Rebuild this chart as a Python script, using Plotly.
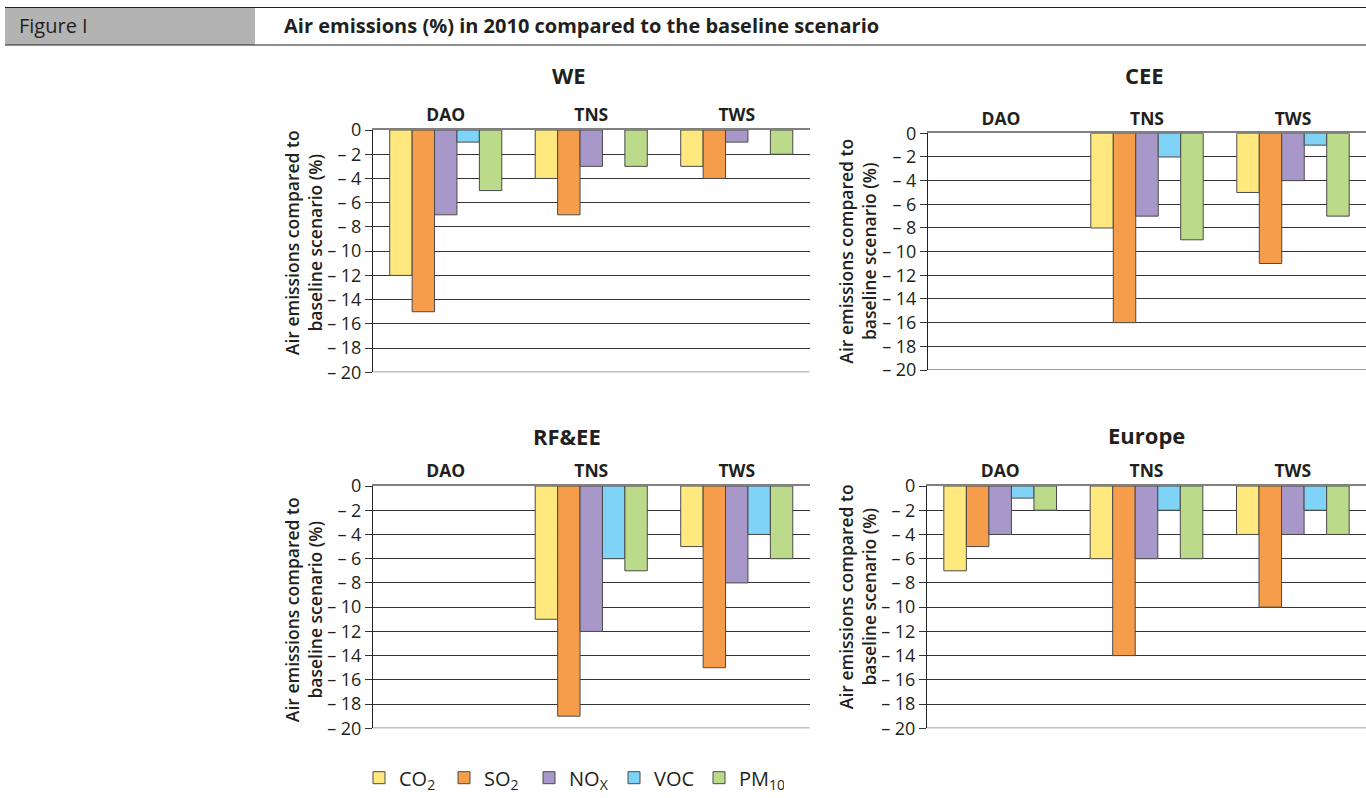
import plotly.graph_objects as go

W, H = 1366, 798

scenarios = ["DAO", "TNS", "TWS"]
pollutants = ["CO<sub>2</sub>", "SO<sub>2</sub>", "NO<sub>X</sub>", "VOC", "PM<sub>10</sub>"]
colors = ["#FFE97F", "#F59D4B", "#A898C9", "#7FD3F7", "#BBDA8A"]

# values per region (DAO, TNS, TWS); None = no bar shown
we_co2 = [-12, -4, -3]
we_so2 = [-15, -7, -4]
we_nox = [-7, -3, -1]
we_voc = [-1, None, None]
we_pm10 = [-5, -3, -2]

cee_co2 = [None, -8, -5]
cee_so2 = [None, -16, -11]
cee_nox = [None, -7, -4]
cee_voc = [None, -2, -1]
cee_pm10 = [None, -9, -7]

rfee_co2 = [None, -11, -5]
rfee_so2 = [None, -19, -15]
rfee_nox = [None, -12, -8]
rfee_voc = [None, -6, -4]
rfee_pm10 = [None, -7, -6]

eu_co2 = [-7, -6, -4]
eu_so2 = [-5, -14, -10]
eu_nox = [-4, -6, -4]
eu_voc = [-1, -2, -2]
eu_pm10 = [-2, -6, -4]

regions = ["WE", "CEE", "RF&EE", "Europe"]
region_data = [
    [we_co2, we_so2, we_nox, we_voc, we_pm10],
    [cee_co2, cee_so2, cee_nox, cee_voc, cee_pm10],
    [rfee_co2, rfee_so2, rfee_nox, rfee_voc, rfee_pm10],
    [eu_co2, eu_so2, eu_nox, eu_voc, eu_pm10],
]

tickvals = list(range(0, -21, -2))
ticktext = ["0"] + ["\u2013 %d" % (-v) for v in tickvals[1:]]

FONT = "Open Sans"
TXT = "#231f20"

def px_x(p):
    return p / W

def px_y(p):
    return 1 - p / H

# panel geometry in pixels: (axis left x, right x, top y, bottom y)
panels = [
    (373, 809.5, 130, 372.3),
    (928, 1366, 133.3, 370),
    (373, 809.5, 486, 728.3),
    (927, 1366, 486, 728.3),
]
title_pos = [(569, 75), (1144, 75), (567, 436), (1146, 435)]
ytitle_shift = [-8, 0, 3, -10]

fig = go.Figure()

for i, (reg, data) in enumerate(zip(regions, region_data)):
    sfx = "" if i == 0 else str(i + 1)
    for j, (name, vals) in enumerate(zip(pollutants, data)):
        fig.add_trace(go.Bar(
            x=scenarios, y=vals, name=name,
            marker=dict(color=colors[j], line=dict(color="#4a4a4a", width=1)),
            xaxis="x" + sfx, yaxis="y" + sfx,
            showlegend=(i == 0), legendgroup=name,
        ))
    x0, x1, y0, y1 = panels[i]
    fig.update_layout(**{
        "xaxis" + sfx: dict(
            domain=[px_x(x0), px_x(x1)], anchor="y" + sfx, side="top",
            type="category", categoryorder="array", categoryarray=scenarios,
            range=[-0.5, 2.5], showline=True, linecolor="#808080", linewidth=1.5,
            showgrid=False, ticks="",
            tickfont=dict(family=FONT, size=17.5, color=TXT, weight="bold"),
            ticklabelstandoff=0,
        ),
        "yaxis" + sfx: dict(
            domain=[px_y(y1), px_y(y0)], anchor="x" + sfx,
            range=[-20, 0], tickvals=tickvals, ticktext=ticktext,
            showline=True, linecolor="#222", linewidth=1,
            showgrid=True, gridcolor="#333", gridwidth=1, zeroline=False,
            ticks="outside", ticklen=7, tickcolor="#333",
            tickfont=dict(family=FONT, size=18, color=TXT),
        ),
    })
    fig.add_shape(type="line", xref="x" + sfx + " domain", yref="y" + sfx,
                  x0=0, x1=1, y0=-20, y1=-20, line=dict(color="#808080", width=1.5))
    tx, ty = title_pos[i]
    fig.add_annotation(text=reg, x=px_x(tx), y=px_y(ty), xref="paper", yref="paper",
                       showarrow=False, font=dict(family=FONT, size=22, color=TXT, weight="bold"),
                       xanchor="center", yanchor="middle")
    fig.add_annotation(text="Air emissions compared to<br>baseline scenario (%)",
                       x=px_x(x0 - 70), y=px_y((y0 + y1) / 2 + ytitle_shift[i]),
                       xref="paper", yref="paper",
                       showarrow=False, textangle=-90,
                       font=dict(family=FONT, size=17.5, color=TXT, weight=600),
                       xanchor="center", yanchor="middle")

# header band
fig.add_shape(type="rect", xref="paper", yref="paper", x0=px_x(5), x1=px_x(255),
              y0=px_y(45), y1=px_y(7.5), fillcolor="#B3B3B3", line=dict(width=0), layer="below")
fig.add_shape(type="line", xref="paper", yref="paper", x0=px_x(5), x1=1, y0=px_y(7.5), y1=px_y(7.5),
              line=dict(color="#222", width=1.2))
fig.add_shape(type="line", xref="paper", yref="paper", x0=px_x(5), x1=1, y0=px_y(45), y1=px_y(45),
              line=dict(color="#222", width=1.2))
fig.add_annotation(text="Figure I", x=px_x(17), y=px_y(25.5), xref="paper", yref="paper",
                   showarrow=False, xanchor="left", yanchor="middle",
                   font=dict(family=FONT, size=20, color=TXT))
fig.add_annotation(text="Air emissions (%) in 2010 compared to the baseline scenario",
                   x=px_x(282), y=px_y(25.5), xref="paper", yref="paper",
                   showarrow=False, xanchor="left", yanchor="middle",
                   font=dict(family=FONT, size=20, color=TXT, weight="bold"))

fig.update_layout(
    width=W, height=H, margin=dict(l=0, r=0, t=0, b=0, autoexpand=False),
    paper_bgcolor="white", plot_bgcolor="white",
    barmode="group", bargap=0.23, bargroupgap=0,
    showlegend=True,
    legend=dict(orientation="h", xref="container", yref="container",
                x=359 / W, y=1 - 777.7 / H, xanchor="left", yanchor="middle",
                font=dict(family=FONT, size=20, color=TXT),
                entrywidth=40, entrywidthmode="pixels", itemwidth=30,
                bgcolor="rgba(0,0,0,0)", traceorder="normal"),
    font=dict(family=FONT, color=TXT),
)

fig.write_html("out.html", config={"displayModeBar": False},
               post_script="document.body.style.margin='0';document.body.style.overflow='hidden';")
